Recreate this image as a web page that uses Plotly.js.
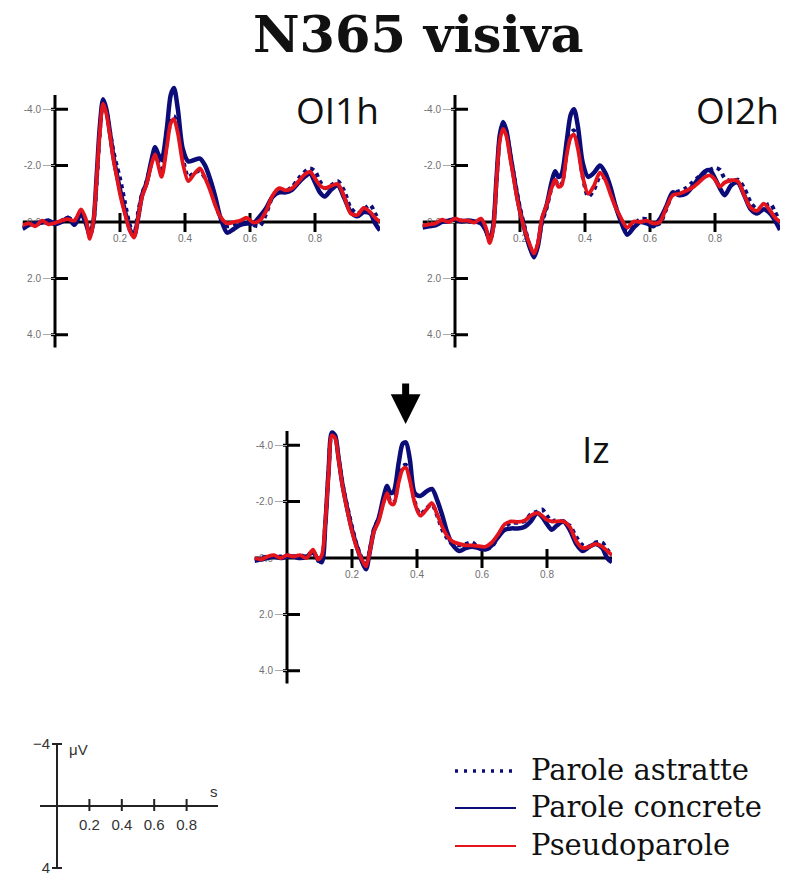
<!DOCTYPE html>
<html>
<head>
<meta charset="utf-8">
<script src="https://cdn.plot.ly/plotly-3.0.1.min.js"></script>
<style>html,body{margin:0;padding:0;background:#fff;}#chart{width:792px;height:875px;}</style>
</head>
<body>
<div id="chart"></div>
<script>
// ---------- DATA ----------
const times = [
  -0.1, -0.08, -0.06, -0.04, -0.02, 0, 0.02, 0.04, 0.06, 0.08,
  0.095, 0.107, 0.118, 0.128, 0.138, 0.148, 0.158, 0.17, 0.18, 0.19,
  0.2, 0.215, 0.23, 0.243, 0.255, 0.268, 0.282, 0.297, 0.308, 0.318,
  0.328, 0.344, 0.356, 0.366, 0.378, 0.393, 0.41, 0.428, 0.446, 0.462,
  0.478, 0.493, 0.508, 0.53, 0.55, 0.57, 0.59, 0.61, 0.63, 0.65,
  0.67, 0.69, 0.71, 0.73, 0.75, 0.77, 0.785, 0.8, 0.815, 0.83,
  0.85, 0.87, 0.89, 0.91, 0.93, 0.95, 0.97, 0.985, 1.0
];

// OI1h
const oi1hAstratte = [
  0.2, 0.05, 0.1, 0.0, 0.05, 0.0, -0.05, -0.15, -0.05, -0.35,
  0.0, 0.5, 0.05, -1.4, -3.2, -4.25, -3.95, -3.15, -2.5, -2.0,
  -1.55, -0.7, 0.1, 0.45, -0.3, -1.0, -1.45, -2.1, -2.45, -2.1,
  -1.75, -2.8, -3.55, -3.75, -3.3, -2.3, -1.6, -1.75, -1.8, -1.55,
  -1.2, -0.65, -0.2, 0.15, 0.1, 0.0, -0.1, 0.1, 0.15, -0.3,
  -0.9, -1.1, -1.1, -1.25, -1.55, -1.8, -1.9, -1.8, -1.45, -1.2,
  -1.3, -1.45, -1.1, -0.5, -0.3, -0.45, -0.6, -0.3, 0.0
];
const oi1hConcrete = [
  0.25, 0.1, 0.05, 0.02, -0.05, 0.08, 0.0, -0.15, 0.1, -0.3,
  0.05, 0.45, 0.0, -1.6, -3.4, -4.35, -4.0, -3.1, -2.3, -1.7,
  -1.15, -0.4, 0.25, 0.5, -0.1, -0.95, -1.4, -2.2, -2.65, -2.4,
  -2.2, -3.3, -4.5, -4.75, -4.0, -2.6, -2.15, -2.2, -2.25, -2.0,
  -1.5, -0.9, -0.2, 0.38, 0.25, 0.1, 0.05, 0.05, -0.2, -0.5,
  -0.9, -1.05, -1.05, -1.15, -1.4, -1.62, -1.72, -1.4, -1.05, -0.9,
  -1.15, -1.3, -0.85, -0.35, -0.2, -0.35, -0.3, 0.05, 0.3
];
const oi1hPseudo = [
  0.12, 0.05, 0.15, -0.05, 0.08, 0.03, -0.05, -0.1, -0.05, -0.45,
  -0.1, 0.6, 0.0, -1.5, -3.2, -4.2, -3.85, -3.0, -2.2, -1.6,
  -1.0, -0.3, 0.3, 0.55, -0.1, -0.9, -1.35, -2.05, -2.4, -2.0,
  -1.6, -2.65, -3.5, -3.65, -3.15, -2.1, -1.45, -1.7, -1.9, -1.55,
  -1.1, -0.6, -0.2, 0.05, 0.0, -0.05, -0.15, 0.02, -0.05, -0.4,
  -0.95, -1.2, -1.12, -1.2, -1.45, -1.7, -1.78, -1.55, -1.3, -1.2,
  -1.28, -1.35, -0.9, -0.3, -0.25, -0.5, -0.35, -0.15, 0.0
];

// OI2h
const oi2hAstratte = [
  0.15, 0.1, 0.1, -0.05, 0.0, -0.1, -0.05, -0.02, 0.0, 0.0,
  0.3, 0.7, 0.15, -1.5, -3.0, -3.45, -3.2, -2.4, -1.75, -1.1,
  -0.5, 0.2, 0.85, 1.2, 0.8, 0.0, -0.5, -1.2, -1.5, -1.3,
  -1.35, -2.5, -3.15, -3.25, -2.8, -1.6, -0.9, -1.15, -1.6, -1.55,
  -1.15, -0.6, -0.15, 0.3, 0.1, -0.1, -0.1, 0.1, 0.05, -0.45,
  -1.0, -1.1, -1.2, -1.4, -1.6, -1.75, -1.85, -1.92, -1.85, -1.55,
  -1.45, -1.5, -1.2, -0.7, -0.45, -0.55, -0.65, -0.35, 0.0
];
const oi2hConcrete = [
  0.2, 0.15, 0.12, 0.0, -0.05, -0.1, -0.02, -0.05, -0.02, 0.05,
  0.3, 0.65, 0.1, -1.6, -3.1, -3.55, -3.25, -2.4, -1.7, -1.0,
  -0.4, 0.3, 0.9, 1.25, 0.85, -0.1, -0.6, -1.4, -1.8, -1.6,
  -1.7, -2.9, -3.8, -4.0, -3.4, -2.1, -1.6, -1.75, -2.0, -1.75,
  -1.25, -0.6, -0.1, 0.45, 0.2, 0.0, 0.05, 0.15, -0.1, -0.55,
  -1.05, -0.95, -1.0, -1.25, -1.55, -1.8, -1.83, -1.55, -1.2, -0.95,
  -1.3, -1.4, -0.95, -0.45, -0.3, -0.45, -0.3, -0.05, 0.28
];
const oi2hPseudo = [
  0.12, 0.08, 0.05, -0.08, 0.0, -0.12, -0.05, -0.05, 0.02, -0.12,
  0.2, 0.75, 0.2, -1.5, -2.9, -3.3, -3.05, -2.25, -1.6, -0.9,
  -0.35, 0.3, 0.8, 1.12, 0.75, -0.15, -0.6, -1.2, -1.5, -1.25,
  -1.3, -2.4, -3.0, -3.1, -2.6, -1.6, -1.0, -1.3, -1.75, -1.5,
  -1.0, -0.55, -0.2, 0.2, -0.02, 0.0, -0.05, 0.05, 0.0, -0.5,
  -0.95, -1.0, -1.1, -1.22, -1.4, -1.6, -1.65, -1.5, -1.25, -1.4,
  -1.48, -1.45, -0.95, -0.5, -0.4, -0.65, -0.4, -0.15, 0.0
];

// Iz
const izAstratte = [
  0.05, 0.0, -0.05, -0.05, -0.05, -0.1, -0.05, -0.1, -0.05, -0.25,
  0.1, 0.0, -1.25, -3.1, -4.4, -4.3, -3.6, -2.7, -2.1, -1.6,
  -1.1, -0.45, 0.0, 0.3, -0.3, -1.05, -1.4, -2.0, -2.35, -2.0,
  -1.95, -2.8, -3.25, -3.3, -2.9, -2.0, -1.55, -1.75, -1.9, -1.5,
  -1.0, -0.7, -0.5, -0.45, -0.5, -0.55, -0.35, -0.3, -0.4, -0.75,
  -1.1, -1.25, -1.25, -1.3, -1.55, -1.65, -1.72, -1.5, -1.3, -1.35,
  -1.25, -1.15, -0.75, -0.45, -0.4, -0.55, -0.55, -0.3, -0.1
];
const izConcrete = [
  0.1, 0.05, 0.0, -0.05, 0.0, -0.05, -0.05, 0.0, -0.05, -0.2,
  0.05, 0.15, -1.2, -3.1, -4.45, -4.35, -3.6, -2.65, -2.05, -1.5,
  -1.0, -0.4, 0.1, 0.4, -0.25, -1.0, -1.4, -2.15, -2.55, -2.3,
  -2.35, -3.4, -4.05, -4.1, -3.5, -2.3, -2.2, -2.35, -2.45, -2.05,
  -1.5, -0.9, -0.5, -0.25, -0.35, -0.4, -0.35, -0.3, -0.45, -0.75,
  -1.0, -1.05, -1.05, -1.1, -1.3, -1.6, -1.45, -1.2, -1.0, -1.15,
  -1.3, -1.0, -0.5, -0.25, -0.4, -0.5, -0.35, 0.0, 0.15
];
const izPseudo = [
  0.0, 0.05, -0.05, -0.1, 0.0, -0.1, -0.05, -0.1, 0.0, -0.3,
  0.05, -0.1, -1.3, -3.0, -4.35, -4.25, -3.55, -2.6, -2.0, -1.45,
  -0.95, -0.35, 0.05, 0.3, -0.25, -0.95, -1.3, -1.95, -2.3, -1.95,
  -1.9, -2.7, -3.15, -3.2, -2.75, -1.95, -1.5, -1.7, -1.95, -1.55,
  -1.1, -0.78, -0.6, -0.5, -0.45, -0.45, -0.42, -0.4, -0.55, -0.85,
  -1.2, -1.3, -1.28, -1.32, -1.5, -1.6, -1.5, -1.35, -1.3, -1.3,
  -1.3, -1.1, -0.6, -0.35, -0.4, -0.5, -0.4, -0.25, -0.1
];

const channels = ['OI1h', 'OI2h', 'Iz'];
const seriesNames = ['Parole astratte', 'Parole concrete', 'Pseudoparole'];
const xTickVals = [0.2, 0.4, 0.6, 0.8];
const xTickText = ['0.2', '0.4', '0.6', '0.8'];
const yTickVals = [-4, -2, 0, 2, 4];
const yTickText = ['-4.0', '-2.0', '0.0', '2.0', '4.0'];
const scaleXTicks = [0.2, 0.4, 0.6, 0.8];
const scaleXText = ['0.2', '0.4', '0.6', '0.8'];
const scaleYTicks = [-4, 4];
const scaleYText = ['\u22124', '4'];

// ---------- LAYOUT HELPERS ----------
const W = 792, H = 875;
const NAVY = '#0c0c78', RED = '#e3141c';
const SX = 325, SY = 28.2;             // px per second, px per microvolt
const XR = [-0.1, 1.0], YR = [4.6, -5.0];

const panels = [
  {name: channels[0], zx: 55,  zy: 222, data: [oi1hAstratte, oi1hConcrete, oi1hPseudo], lblRight: 381, lblY: 110, lblSize: 37},
  {name: channels[1], zx: 455, zy: 222, data: [oi2hAstratte, oi2hConcrete, oi2hPseudo], lblRight: 781, lblY: 110, lblSize: 37},
  {name: channels[2], zx: 287, zy: 558, data: [izAstratte, izConcrete, izPseudo], lblRight: 612, lblY: 448, lblSize: 37}
];

const traces = [];
const layout = {
  width: W, height: H,
  margin: {l: 0, r: 0, t: 0, b: 0},
  paper_bgcolor: '#fff', plot_bgcolor: 'rgba(0,0,0,0)',
  showlegend: false,
  shapes: [], annotations: []
};

const tickFont = {family: 'Liberation Sans, Arial, sans-serif', size: 10, color: '#707070'};

panels.forEach((p, i) => {
  const n = i === 0 ? '' : String(i + 1);
  const xa = 'x' + n, ya = 'y' + n;
  const xDom = [(p.zx + XR[0] * SX) / W, (p.zx + XR[1] * SX) / W];
  const yBot = p.zy + YR[0] * SY, yTop = p.zy + YR[1] * SY;
  const yDom = [1 - yBot / H, 1 - yTop / H];

  layout['xaxis' + n] = {
    domain: xDom, range: XR, anchor: 'free', position: 1 - p.zy / H,
    tickmode: 'array', tickvals: xTickVals, ticktext: xTickText,
    ticks: 'outside', ticklen: 7, tickcolor: 'rgba(0,0,0,0)', tickfont: tickFont,
    showline: false, showgrid: false, zeroline: false, layer: 'below traces', fixedrange: true
  };
  layout['yaxis' + n] = {
    domain: yDom, range: YR, anchor: 'free', position: p.zx / W,
    tickmode: 'array', tickvals: yTickVals, ticktext: yTickText,
    ticks: 'outside', ticklen: 12, tickwidth: 1, tickcolor: '#aaa', tickfont: tickFont,
    showline: false, showgrid: false, zeroline: false, layer: 'below traces', fixedrange: true
  };

  // axis lines
  layout.shapes.push({type: 'line', xref: xa, yref: ya, x0: 0, x1: 0, y0: -4.5, y1: 4.45,
    line: {color: '#000', width: 3}, layer: 'below'});
  layout.shapes.push({type: 'line', xref: xa, yref: ya, x0: XR[0], x1: XR[1], y0: 0, y1: 0,
    line: {color: '#000', width: 3}, layer: 'below'});
  // crossing tick marks
  yTickVals.filter(v => v !== 0).forEach(v => layout.shapes.push({
    type: 'line', xref: xa, yref: ya, xsizemode: 'pixel', xanchor: 0, x0: -4, x1: 13, y0: v, y1: v,
    line: {color: '#000', width: 3}, layer: 'below'}));
  xTickVals.forEach(v => layout.shapes.push({
    type: 'line', xref: xa, yref: ya, ysizemode: 'pixel', yanchor: 0, y0: -10, y1: 9, x0: v, x1: v,
    line: {color: '#000', width: 3}, layer: 'below'}));

  // traces: concrete, astratte (dotted), pseudo
  traces.push({type: 'scatter', mode: 'lines', x: times, y: p.data[1], xaxis: xa, yaxis: ya,
    name: seriesNames[1], line: {color: NAVY, width: 4.5, shape: 'spline', smoothing: 0.8}, hoverinfo: 'skip'});
  traces.push({type: 'scatter', mode: 'lines', x: times, y: p.data[0], xaxis: xa, yaxis: ya,
    name: seriesNames[0], line: {color: NAVY, width: 4, dash: 'dot', shape: 'spline', smoothing: 0.8}, hoverinfo: 'skip'});
  traces.push({type: 'scatter', mode: 'lines', x: times, y: p.data[2], xaxis: xa, yaxis: ya,
    name: seriesNames[2], line: {color: RED, width: 3.8, shape: 'spline', smoothing: 0.8}, hoverinfo: 'skip'});

  // channel label
  layout.annotations.push({text: p.name, xref: 'paper', yref: 'paper', x: p.lblRight / W, y: 1 - p.lblY / H,
    xanchor: 'right', yanchor: 'middle', showarrow: false,
    font: {family: 'Open Sans, DejaVu Sans, sans-serif', size: p.lblSize, color: '#111'}});
});

// arrow over the N365 peak in Iz
layout.annotations.push({xref: 'x3', yref: 'y3', x: 0.365, y: -4.75, ax: 0, ay: -42, text: '',
  showarrow: true, arrowhead: 2, arrowsize: 0.85, arrowwidth: 7, arrowcolor: '#000', standoff: 0});

// title
layout.annotations.push({text: 'N365 visiva', xref: 'paper', yref: 'paper', x: 418 / W, y: 1 - 34 / H,
  xanchor: 'center', yanchor: 'middle', showarrow: false,
  font: {family: 'DejaVu Serif, serif', size: 51, color: '#111', weight: 'bold'}});

// ---------- SCALE BAR (own axes) ----------
const SX4 = 162, SY4 = 15.5, z4x = 57, z4y = 806;
const XR4 = [(40 - z4x) / SX4, (218 - z4x) / SX4], YR4 = [4.2, -4.2];
const scaleFont = {family: 'Liberation Sans, Arial, sans-serif', size: 15, color: '#333'};
layout.xaxis4 = {domain: [40 / W, 218 / W], range: XR4, anchor: 'free', position: 1 - z4y / H,
  tickmode: 'array', tickvals: scaleXTicks, ticktext: scaleXText, ticks: 'outside', ticklen: 5,
  tickcolor: 'rgba(0,0,0,0)', tickfont: scaleFont, showline: false, showgrid: false, zeroline: false, fixedrange: true};
layout.yaxis4 = {domain: [1 - (z4y + YR4[0] * SY4) / H, 1 - (z4y + YR4[1] * SY4) / H], range: YR4,
  anchor: 'free', position: z4x / W, ticklabeloverflow: 'allow',
  tickmode: 'array', tickvals: scaleYTicks, ticktext: scaleYText, ticks: 'outside', ticklen: 4,
  tickcolor: 'rgba(0,0,0,0)', tickfont: scaleFont, showline: false, showgrid: false, zeroline: false, fixedrange: true};
traces.push({type: 'scatter', mode: 'lines', x: [], y: [], xaxis: 'x4', yaxis: 'y4', hoverinfo: 'skip', showlegend: false});
layout.shapes.push({type: 'line', xref: 'x4', yref: 'y4', x0: 0, x1: 0, y0: -4, y1: 4, line: {color: '#222', width: 2}});
layout.shapes.push({type: 'line', xref: 'x4', yref: 'y4', x0: XR4[0], x1: XR4[1], y0: 0, y1: 0, line: {color: '#222', width: 2}});
scaleYTicks.forEach(v => layout.shapes.push({type: 'line', xref: 'x4', yref: 'y4', xsizemode: 'pixel', xanchor: 0,
  x0: -5, x1: 5, y0: v, y1: v, line: {color: '#222', width: 2}}));
scaleXTicks.forEach(v => layout.shapes.push({type: 'line', xref: 'x4', yref: 'y4', ysizemode: 'pixel', yanchor: 0,
  y0: -5, y1: 7, x0: v, x1: v, line: {color: '#222', width: 2}}));
layout.annotations.push({text: '\u03bcV', xref: 'paper', yref: 'paper', x: 67 / W, y: 1 - 749 / H,
  xanchor: 'left', yanchor: 'middle', showarrow: false, font: scaleFont});
layout.annotations.push({text: 's', xref: 'paper', yref: 'paper', x: 214 / W, y: 1 - 791 / H,
  xanchor: 'center', yanchor: 'middle', showarrow: false, font: scaleFont});

// ---------- LEGEND (manual, long samples) ----------
const legendRows = [
  {name: seriesNames[0], y: 771, color: NAVY, dash: '3px,6px', width: 3.5},
  {name: seriesNames[1], y: 808, color: NAVY, dash: 'solid', width: 2},
  {name: seriesNames[2], y: 846, color: RED, dash: 'solid', width: 2}
];
legendRows.forEach(r => {
  layout.shapes.push({type: 'line', xref: 'paper', yref: 'paper', x0: 455 / W, x1: 516 / W,
    y0: 1 - r.y / H, y1: 1 - r.y / H, line: {color: r.color, width: r.width, dash: r.dash}});
  layout.annotations.push({text: r.name, xref: 'paper', yref: 'paper', x: 529 / W, y: 1 - (r.y - 1) / H,
    xanchor: 'left', yanchor: 'middle', showarrow: false,
    font: {family: 'DejaVu Serif, serif', size: 29, color: '#111'}});
});

Plotly.newPlot('chart', traces, layout, {staticPlot: true, displayModeBar: false});
</script>
</body>
</html>
